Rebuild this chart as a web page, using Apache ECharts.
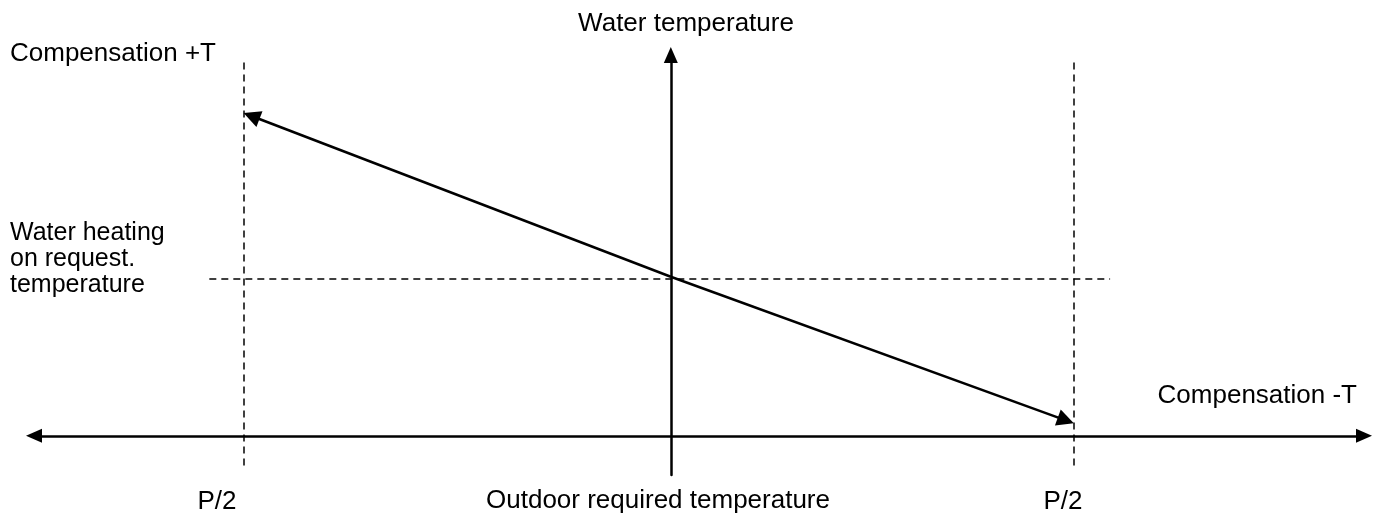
<!DOCTYPE html>
<html>
<head>
<meta charset="utf-8">
<script src="https://cdn.jsdelivr.net/npm/echarts@6/dist/echarts.min.js"></script>
<style>
  html, body { margin: 0; padding: 0; background: #fff; }
  #chart { width: 1378px; height: 515px; }
</style>
</head>
<body>
<div id="chart"></div>
<script>
// Outdoor temperature (x) and water temperature (y), arbitrary units
const xRange = [-15.8, 17.2];
const yRange = [-2.5, 24.3];

// P/2 limits on the outdoor axis and the height of their dashed guides
const bandLimits = [-10.6, 10];
const bandSpan = [-1.9, 24.1];

// Water heating on request temperature level and its dashed guide extent
const requestLevel = 10;
const requestSpan = [-11.45, 10.9];

// Compensation curve: +T end, crossing at the request level, -T end
const curveX = [-10.6, 0, 10];
const curveY = [20.6, 10.15, 0.8];

// Texts
const yAxisTitle = 'Water temperature';
const xAxisTitle = 'Outdoor required temperature';
const plusLabel = 'Compensation +T';
const minusLabel = 'Compensation -T';
const requestLabel = ['Water heating', 'on request.', 'temperature'];
const bandLabels = ['P/2', 'P/2'];

const FONT = '"Liberation Sans", Arial, sans-serif';
const INK = '#000';
const HEAD = [13, 17];   // arrow head width, length (px)

const chart = echarts.init(document.getElementById('chart'), null, { renderer: 'canvas' });

const dashed = { color: INK, width: 1.5, type: [7, 5], opacity: 1 };
const solid = { color: INK, width: 2.5, type: 'solid', opacity: 1 };

const guideData = [
  { coords: [[bandLimits[0], bandSpan[0]], [bandLimits[0], bandSpan[1]]] },
  { coords: [[bandLimits[1], bandSpan[0]], [bandLimits[1], bandSpan[1]]] },
  { coords: [[requestSpan[0], requestLevel], [requestSpan[1], requestLevel]] }
];

const textStyle = (text, x, y, align, extra) => ({
  type: 'text',
  x: x,
  y: y,
  silent: true,
  style: Object.assign({
    text: text,
    font: '26px ' + FONT,
    fill: INK,
    align: align,
    verticalAlign: 'middle'
  }, extra || {})
});

chart.setOption({
  animation: false,
  backgroundColor: '#fff',
  grid: { left: 34, right: 14, top: 55, bottom: 40, containLabel: false },
  xAxis: {
    type: 'value',
    min: xRange[0],
    max: xRange[1],
    axisLine: {
      onZero: true,
      symbol: ['triangle', 'triangle'],
      symbolSize: [14, 16],
      lineStyle: { color: INK, width: 2.5 }
    },
    axisTick: { show: false },
    axisLabel: { show: false },
    splitLine: { show: false }
  },
  yAxis: {
    type: 'value',
    min: yRange[0],
    max: yRange[1],
    axisLine: {
      show: true,
      onZero: true,
      symbol: ['none', 'triangle'],
      symbolSize: [14, 16],
      lineStyle: { color: INK, width: 2.5 }
    },
    axisTick: { show: false },
    axisLabel: { show: false },
    splitLine: { show: false }
  },
  series: [
    {
      type: 'lines',
      coordinateSystem: 'cartesian2d',
      symbol: 'none',
      lineStyle: dashed,
      data: guideData,
      z: 1
    }
  ],
  graphic: [
    textStyle(yAxisTitle, 686, 24, 'center'),
    textStyle(plusLabel, 10, 54, 'left'),
    textStyle(minusLabel, 1357, 396, 'right'),
    textStyle(requestLabel.join('\n'), 10, 220, 'left', { verticalAlign: 'top', lineHeight: 26, font: '25px ' + FONT }),
    textStyle(bandLabels[0], 217, 502, 'center'),
    textStyle(bandLabels[1], 1063, 502, 'center'),
    textStyle(xAxisTitle, 658, 501, 'center')
  ]
});

// Arrow heads are centred on a segment's end, so stop each shaft half a head
// short of the tip; the head then reaches exactly the tip value.
const finder = { gridIndex: 0 };
function shaftEnd(from, tip) {
  const a = chart.convertToPixel(finder, from);
  const b = chart.convertToPixel(finder, tip);
  const dx = b[0] - a[0], dy = b[1] - a[1];
  const len = Math.hypot(dx, dy);
  const k = (len - HEAD[1] / 2) / len;
  return chart.convertFromPixel(finder, [a[0] + dx * k, a[1] + dy * k]);
}

const mid = [curveX[1], curveY[1]];
const curveData = [
  { coords: [mid, shaftEnd(mid, [curveX[0], curveY[0]])] },
  { coords: [mid, shaftEnd(mid, [curveX[2], curveY[2]])] }
];

chart.setOption({
  series: [
    {},
    {
      type: 'lines',
      coordinateSystem: 'cartesian2d',
      symbol: ['none', 'triangle'],
      symbolSize: HEAD,
      lineStyle: solid,
      itemStyle: { color: INK, opacity: 1 },
      data: curveData,
      z: 3
    }
  ]
});
</script>
</body>
</html>
